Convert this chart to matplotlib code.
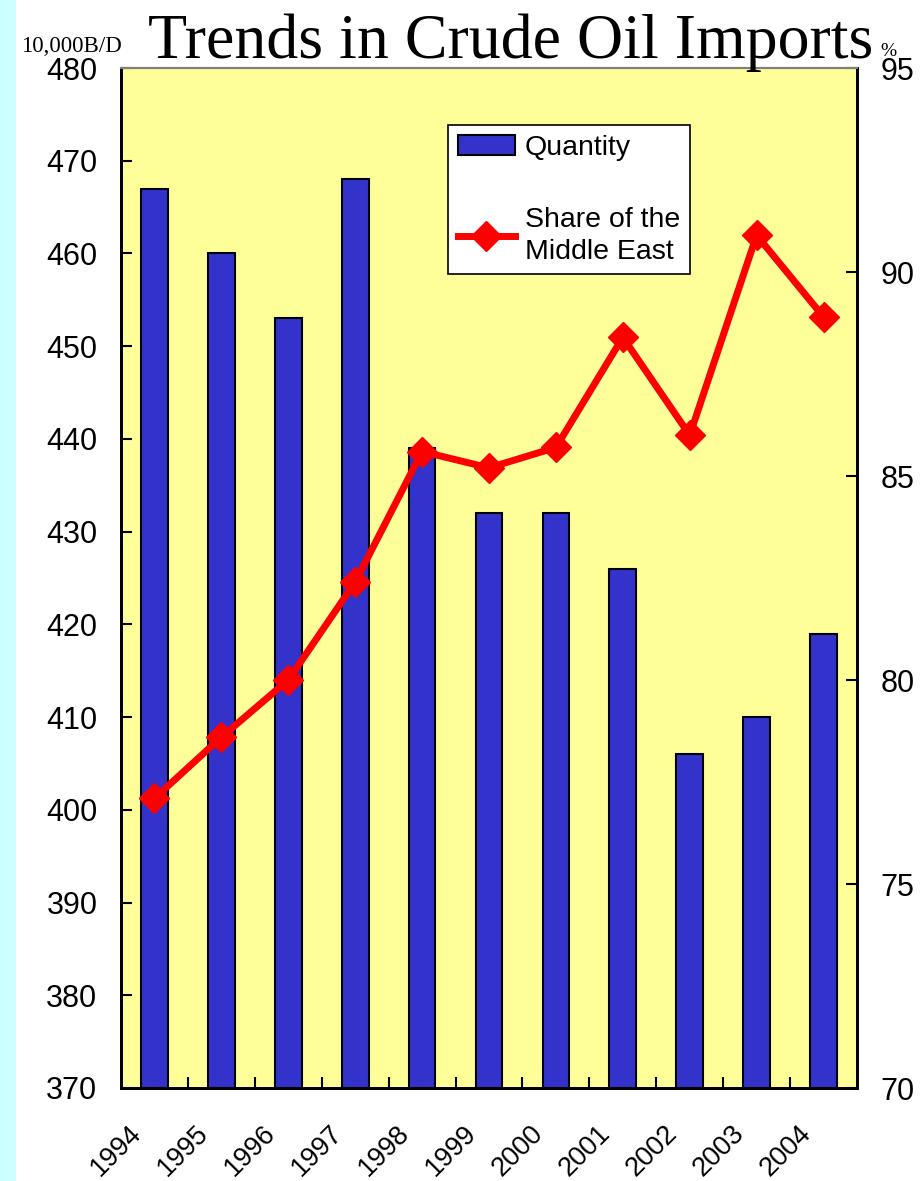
import matplotlib
matplotlib.use("Agg")
import matplotlib.pyplot as plt
from matplotlib.patches import Rectangle

years = ['1994', '1995', '1996', '1997', '1998', '1999', '2000', '2001', '2002', '2003', '2004']
quantity = [467, 460, 453, 468, 439, 432, 432, 426, 406, 410, 419]
middle_east_share = [77.1, 78.6, 80.0, 82.4, 85.6, 85.2, 85.7, 88.4, 86.0, 90.9, 88.9]

left_ticks = [370, 380, 390, 400, 410, 420, 430, 440, 450, 460, 470, 480]
right_ticks = [70, 75, 80, 85, 90, 95]

W, H = 922, 1181
fig = plt.figure(figsize=(W / 100, H / 100), dpi=100)
fig.patch.set_facecolor('white')

# cyan strip on the left edge
fig.patches.append(Rectangle((0, 0), 16 / W, 1, transform=fig.transFigure,
                             facecolor='#CCFFFF', edgecolor='none', zorder=0))

left, right, top, bottom = 121, 857, 68, 1088
ax = fig.add_axes([left / W, 1 - bottom / H, (right - left) / W, (bottom - top) / H])
ax.set_facecolor('#FFFF99')

x = list(range(len(years)))
bars = ax.bar(x, [q - 370 for q in quantity], bottom=370, width=0.4,
              color='#3333CC', edgecolor='black', linewidth=1.5, label='Quantity', zorder=2)
ax.set_xlim(-0.5, len(years) - 0.5)
ax.set_ylim(370, 480)
ax.set_yticks(left_ticks)
ax.set_yticklabels([str(t) for t in left_ticks], family='Liberation Sans', fontsize=22)
ax.tick_params(axis='y', direction='in', length=8, width=1.5, pad=17)

# category boundary ticks on the x axis
ax.set_xticks([i + 0.5 for i in x[:-1]])
ax.set_xticklabels([])
ax.tick_params(axis='x', direction='in', length=8, width=1.5)
for i, yr in enumerate(years):
    ax.text(i - 0.25, -0.041, yr, transform=ax.get_xaxis_transform(), rotation=45,
            ha='right', va='center', rotation_mode='anchor',
            family='Liberation Sans', fontsize=19.5)

ax2 = ax.twinx()
line, = ax2.plot(x, middle_east_share, color='#FF0000', lw=5, marker='D',
                 markersize=15, label='Share of the\nMiddle East', zorder=3)
ax2.set_ylim(70, 95)
ax2.set_yticks(right_ticks)
ax2.set_yticklabels([str(t) for t in right_ticks], family='Liberation Sans', fontsize=22)
ax2.tick_params(axis='y', direction='in', length=8, width=1.5, pad=17)

for a in (ax, ax2):
    a.spines['left'].set_linewidth(2)
    a.spines['bottom'].set_linewidth(2)
    a.spines['right'].set_linewidth(2)
    a.spines['top'].set_linewidth(1.5)
    a.spines['top'].set_color('#808080')

leg = ax2.legend([bars, line], ['Quantity', 'Share of the\nMiddle East'],
                 loc='upper left', bbox_to_anchor=((448 - left) / (right - left), 1 - (125 - top) / (bottom - top)),
                 prop={'family': 'Liberation Sans', 'size': 20.5}, frameon=True, fancybox=False,
                 edgecolor='black', framealpha=1, handlelength=2.0, labelspacing=1.6,
                 borderpad=0.35, handletextpad=0.35, borderaxespad=0)
leg.get_frame().set_linewidth(1.2)
for t in leg.get_texts():
    t.set_linespacing(1.3)

fig.text(148 / W, 1 - 58 / H, 'Trends in Crude Oil Imports', family='Liberation Serif',
         fontsize=46, ha='left', va='baseline')
fig.text(21 / W, 1 - 52 / H, '10,000B/D', family='Liberation Serif', fontsize=16.5,
         ha='left', va='baseline')
fig.text(880 / W, 1 - 56 / H, '%', family='Liberation Serif', fontsize=14,
         ha='left', va='baseline')

fig.savefig('out.png', dpi=100)
